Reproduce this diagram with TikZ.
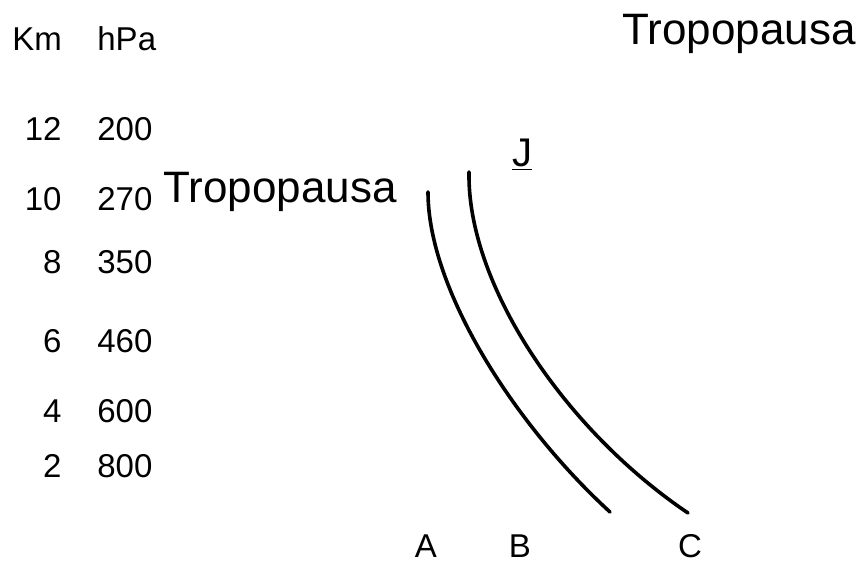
\documentclass[tikz,border=0pt]{standalone}
\usepackage{fontspec}
\setmainfont{Liberation Sans}
\usepackage{tikz}
\usetikzlibrary{positioning,calc}

\begin{document}
\begin{tikzpicture}[x=0.5pt, y=-0.5pt,
    axis/.style={font=\fontsize{16.5}{18}\selectfont, inner sep=0pt},
    level/.style={font=\fontsize{22}{24}\selectfont, inner sep=0pt, anchor=base west},
    curve/.style={line width=1.8pt, line cap=round}]

    \useasboundingbox (0,0) rectangle (863,562);

    % Scale
    \node[axis, anchor=base west] (km) at (12,50) {Km};
    \node[axis, anchor=base west] (hpa) at (97,50) {hPa};
    \foreach \k/\p/\y in {12/200/140, 10/270/210, 8/350/273, 6/460/352, 4/600/422, 2/800/477} {
        \node[axis, anchor=base east] (k\k) at (62,\y) {\k};
        \node[axis, anchor=base west] (p\p) at (97,\y) {\p};
    }
    % Tropopause
    \node[level] (tropL) at (163,202) {Tropopausa};
    \node[level] (tropR) at (622,45) {Tropopausa};
    \node[font=\fontsize{20}{22}\selectfont, inner sep=0pt, anchor=base west] (jet) at (512,166) {\underline{J}};

    % Curves
    \coordinate (a0) at (428,192);
    \coordinate (a1) at (610,512);
    \coordinate (b0) at (469,172);
    \coordinate (b1) at (688,513);
    \draw[curve] (a0) .. controls (428,290) and (515,425) .. (a1);
    \draw[curve] (b0) .. controls (467,285) and (565,430) .. (b1);

    \node[axis, anchor=base] (lA) at (426,557) {A};
    \node[axis, anchor=base] (lB) at (520,557) {B};
    \node[axis, anchor=base] (lC) at (690,557) {C};
\end{tikzpicture}
\end{document}
